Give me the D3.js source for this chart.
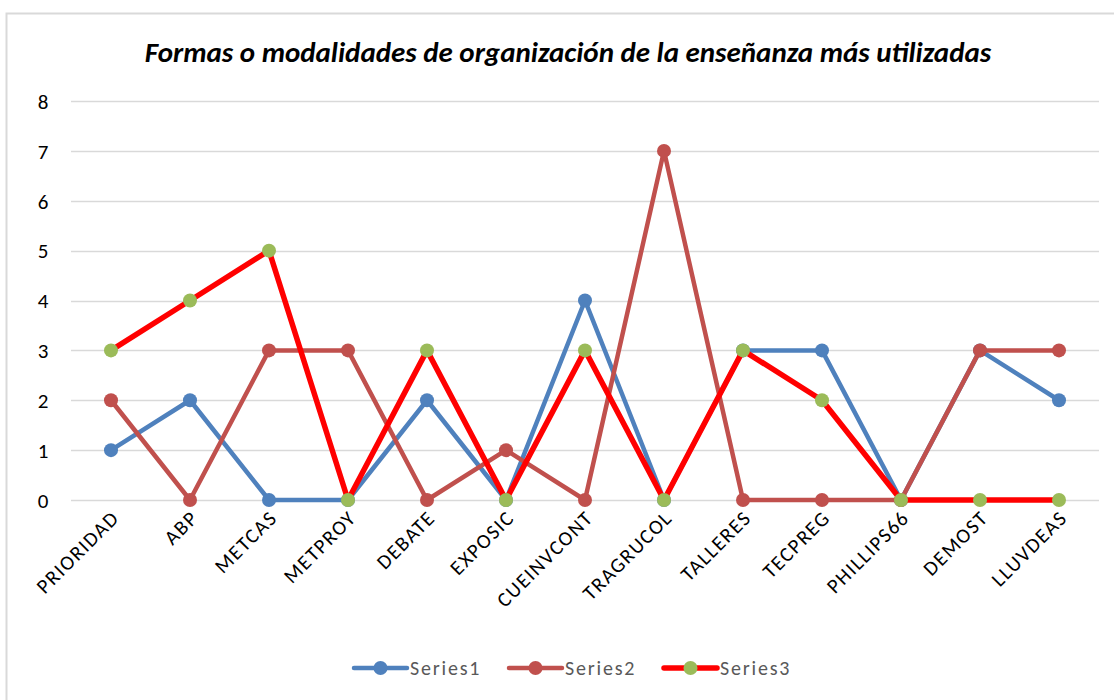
<!DOCTYPE html>
<html>
<head>
<meta charset="utf-8">
<script src="https://cdn.jsdelivr.net/npm/d3@7"></script>
<style>
  body { margin: 0; background: #fff; }
  svg { display: block; }
  svg text { font-family: Calibri, Carlito, "Open Sans", sans-serif; }
</style>
</head>
<body>
<script>
// data
var categories = ["PRIORIDAD", "ABP", "METCAS", "METPROY", "DEBATE", "EXPOSIC", "CUEINVCONT",
                  "TRAGRUCOL", "TALLERES", "TECPREG", "PHILLIPS66", "DEMOST", "LLUVDEAS"];
var series1 = [1, 2, 0, 0, 2, 0, 4, 0, 3, 3, 0, 3, 2];
var series2 = [2, 0, 3, 3, 0, 1, 0, 7, 0, 0, 0, 3, 3];
var series3 = [3, 4, 5, 0, 3, 0, 3, 0, 3, 2, 0, 0, 0];
var seriesNames = ["Series1", "Series2", "Series3"];
var yTicks = [0, 1, 2, 3, 4, 5, 6, 7, 8];

var width = 1114, height = 700;

var svg = d3.select("body").append("svg")
    .attr("width", width)
    .attr("height", height);

// chart border
svg.append("rect")
    .attr("x", 6.5).attr("y", 13.5)
    .attr("width", 1300).attr("height", 900)
    .attr("fill", "none")
    .attr("stroke", "#d9d9d9")
    .attr("stroke-width", 2);

var x = d3.scalePoint()
    .domain(categories)
    .range([111, 1059]);

var y = d3.scaleLinear()
    .domain([0, 8])
    .range([500, 101]);

// title
svg.append("text")
    .attr("x", 568).attr("y", 62)
    .attr("text-anchor", "middle")
    .style("font-size", "29px")
    .style("font-weight", "bold")
    .style("font-style", "italic")
    .attr("fill", "#000")
    .text("Formas o modalidades de organización de la enseñanza más utilizadas");

// gridlines
svg.append("g").selectAll("line")
    .data(yTicks)
    .enter().append("line")
    .attr("x1", 71).attr("x2", 1099)
    .attr("y1", function(d) { return Math.round(y(d)) + 0.5; })
    .attr("y2", function(d) { return Math.round(y(d)) + 0.5; })
    .attr("stroke", "#d9d9d9")
    .attr("stroke-width", 1.5);

// y axis labels
var yAxis = d3.axisLeft(y).tickValues(yTicks).tickSize(0).tickPadding(0);
var gy = svg.append("g")
    .attr("transform", "translate(43,0)")
    .call(yAxis);
gy.attr("font-family", null).attr("font-size", null);
gy.select(".domain").remove();
gy.selectAll("text")
    .attr("text-anchor", "middle")
    .attr("dy", "0.35em")
    .style("font-size", "21px")
    .attr("fill", "#000");

// x axis labels
var xAxis = d3.axisBottom(x).tickSize(0).tickPadding(0);
var gx = svg.append("g")
    .attr("transform", "translate(0,500)")
    .call(xAxis);
gx.attr("font-family", null).attr("font-size", null);
gx.select(".domain").remove();
gx.selectAll("text")
    .attr("text-anchor", "end")
    .attr("y", 0).attr("dy", 0)
    .attr("transform", "translate(9,19) rotate(-45)")
    .style("font-size", "20.5px")
    .style("letter-spacing", "1.5px")
    .attr("fill", "#000");

// series
var series = [
  {name: seriesNames[0], values: series1, line: "#4f81bd", marker: "#4f81bd", w: 4.5},
  {name: seriesNames[1], values: series2, line: "#c0504d", marker: "#c0504d", w: 4.5},
  {name: seriesNames[2], values: series3, line: "#ff0000", marker: "#9bbb59", w: 5.5}
];

var line = d3.line()
    .x(function(d, i) { return x(categories[i]); })
    .y(function(d) { return y(d); });

series.forEach(function(s) {
  var g = svg.append("g");
  g.append("path")
    .attr("d", line(s.values))
    .attr("fill", "none")
    .attr("stroke", s.line)
    .attr("stroke-width", s.w)
    .attr("stroke-linejoin", "round");
  g.selectAll("circle")
    .data(s.values)
    .enter().append("circle")
    .attr("cx", function(d, i) { return x(categories[i]); })
    .attr("cy", function(d) { return y(d); })
    .attr("r", 7)
    .attr("fill", s.marker);
});

// legend
var legendX = [352, 507, 662];
var legend = svg.append("g").selectAll("g")
    .data(series)
    .enter().append("g")
    .attr("transform", function(d, i) { return "translate(" + legendX[i] + ",668)"; });
legend.append("line")
    .attr("x1", 2).attr("x2", 55)
    .attr("stroke", function(d) { return d.line; })
    .attr("stroke-width", function(d) { return d.w; })
    .attr("stroke-linecap", "round");
legend.append("circle")
    .attr("cx", 28.5).attr("r", 7)
    .attr("fill", function(d) { return d.marker; });
legend.append("text")
    .attr("x", 58).attr("dy", "0.35em")
    .style("font-size", "20px")
    .style("letter-spacing", "1.8px")
    .attr("fill", "#595959")
    .text(function(d) { return d.name; });
</script>
</body>
</html>
